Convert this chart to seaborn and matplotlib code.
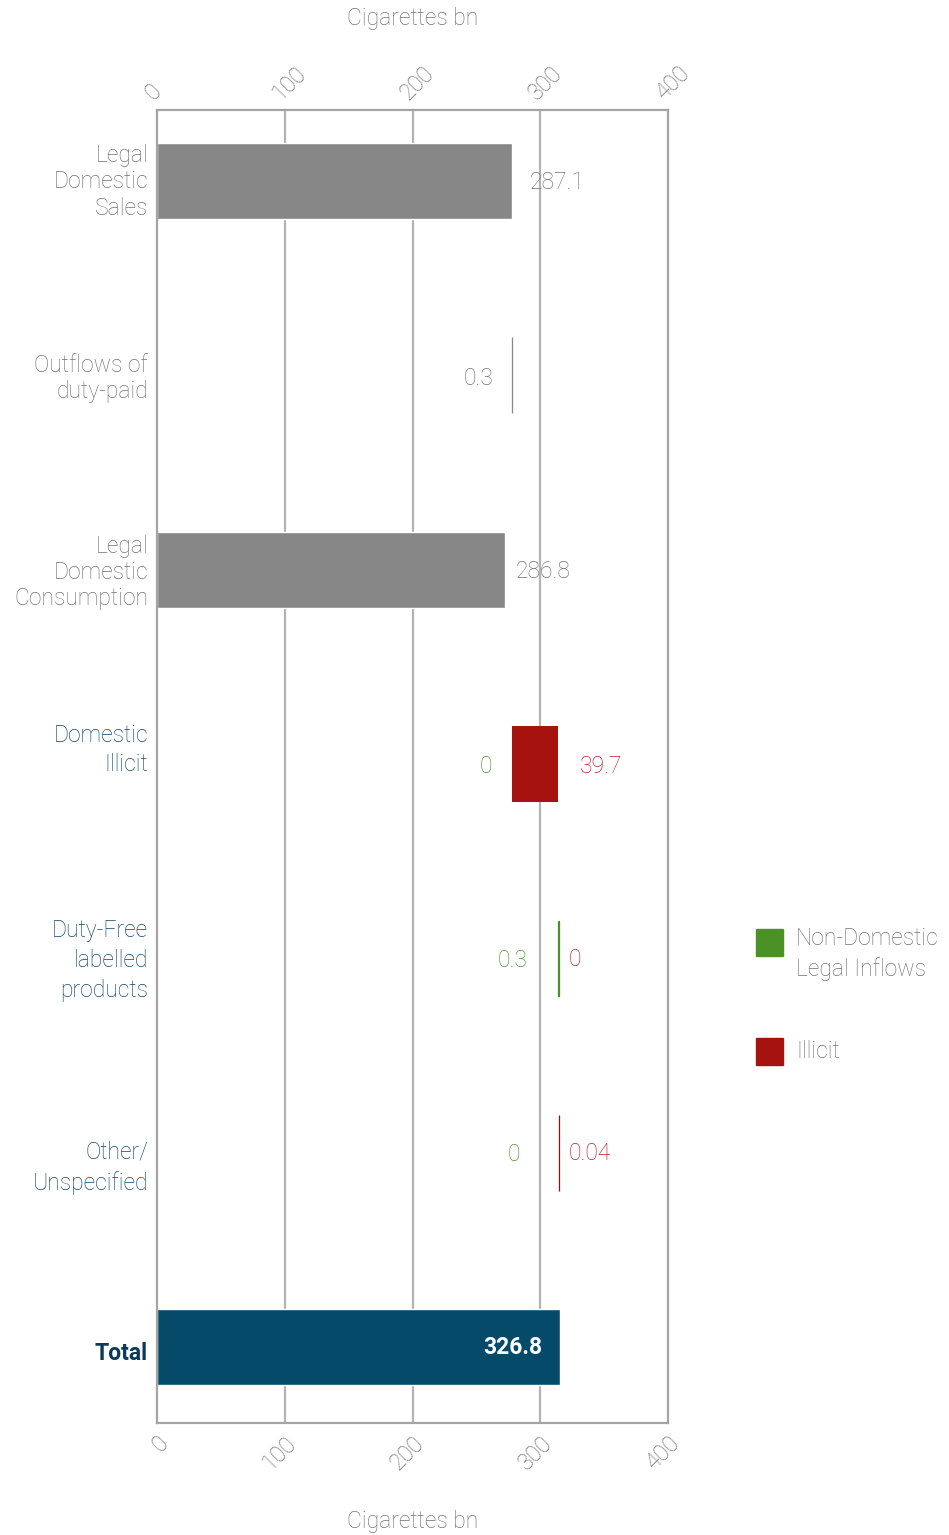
import matplotlib
matplotlib.use("Agg")
import matplotlib.pyplot as plt
import matplotlib.transforms as mtransforms
from matplotlib.patches import Rectangle
import seaborn as sns
import pandas as pd

# ---------------- data ----------------
categories = ["Legal\nDomestic\nSales", "Outflows of\nduty-paid", "Legal\nDomestic\nConsumption",
              "Domestic\nIllicit", "Duty-Free\nlabelled\nproducts", "Other/\nUnspecified", "Total"]
# bars starting at zero (drawn lengths)
zero_cats = ["Legal\nDomestic\nSales", "Legal\nDomestic\nConsumption", "Total"]
zero_vals = [277.9, 272.4, 315.5]
# floating pieces: category, left, width, kind
float_cats = ["Outflows of\nduty-paid", "Domestic\nIllicit", "Duty-Free\nlabelled\nproducts", "Other/\nUnspecified"]
float_left = [277.8, 278.0, 314.0, 314.9]
float_width = [0.3, 36.0, 0.3, 0.04]
float_kind = ["outflow", "illicit", "inflow", "illicit"]
# printed values
sales_label = "287.1"
outflow_label = "0.3"
consumption_label = "286.8"
inflow_labels = ["0", "0.3", "0"]      # Domestic Illicit, Duty-Free, Other
illicit_labels = ["39.7", "0", "0.04"]
total_label = "326.8"
legend_labels = ["Non-Domestic\nLegal Inflows", "Illicit"]
x_ticks = [0, 100, 200, 300, 400]
axis_title = "Cigarettes bn"

# ---------------- style ----------------
sns.set_theme(style="white")
plt.rcParams["font.family"] = ["Roboto", "DejaVu Sans"]
GREY_BAR = "#878787"
RED = "#A51210"
GREEN = "#4A9128"
NAVY = "#064A6A"
TXT_GREY = "#737373"
TXT_BLUE = "#134667"
TXT_GREEN = "#4A9628"
TXT_RED = "#BE1E26"
GRID = "#B3B3B3"
FW = "light"
FS = 16.5

W, H = 949, 1535
fig = plt.figure(figsize=(W / 100, H / 100), dpi=100)
ax = fig.add_axes([157 / W, 112 / H, (668 - 157) / W, (1423 - 110) / H])

pos = {c: i for i, c in enumerate(categories)}
bar_h = 0.39

df = pd.DataFrame({"category": zero_cats, "value": zero_vals})
sns.barplot(data=df, y="category", x="value", order=categories, hue="category",
            hue_order=zero_cats, palette=[GREY_BAR, GREY_BAR, NAVY], orient="h",
            width=bar_h, legend=False, ax=ax, saturation=1, zorder=2)

kind_color = {"outflow": GREY_BAR, "illicit": RED, "inflow": GREEN}
for c, l, w, k in zip(float_cats, float_left, float_width, float_kind):
    col = kind_color[k]
    if k == "illicit" and w < 1:
        col = "#8E0F0D"
    ax.barh(pos[c], w, left=l, height=bar_h, color=col,
            edgecolor=col, linewidth=0.9 if w < 1 else 0, zorder=2)

ax.set_xlim(0, 400)
ax.set_ylim(len(categories) - 1 + 0.39, -0.365)
for xv in x_ticks[1:-1]:
    ax.axvline(xv, color=GRID, lw=1.6, zorder=1)
for s in ax.spines.values():
    s.set_visible(True)
    s.set_color("#A4A4A4")
    s.set_linewidth(1.6)

ax.set_yticks([])
ax.set_ylabel("")
ax.set_xticks(x_ticks)
ax.set_xticklabels([str(t) for t in x_ticks], rotation=45, ha="right",
                   rotation_mode="anchor", color=TXT_GREY, fontsize=FS, fontweight=FW)
ax.tick_params(axis="x", length=0, pad=6)
ax.set_xlabel(axis_title, color=TXT_GREY, fontsize=FS, fontweight=FW, labelpad=26)

top = ax.secondary_xaxis("top")
top.set_xticks(x_ticks)
top.set_xticklabels([str(t) for t in x_ticks], rotation=45, ha="left",
                    rotation_mode="anchor", color=TXT_GREY, fontsize=FS, fontweight=FW)
top.tick_params(axis="x", length=0, pad=4)
top.spines["top"].set_visible(False)
top.set_xlabel(axis_title, color=TXT_GREY, fontsize=FS, fontweight=FW, labelpad=26)

# category labels
cat_colors = [TXT_GREY, TXT_GREY, TXT_GREY, TXT_BLUE, TXT_BLUE, TXT_BLUE, "#0B3A58"]
cat_dy = [-1, -3, -3, 14, -2, -15, -6]
cat_ls = [1.18, 1.18, 1.18, 1.38, 1.38, 1.38, 1.2]
yt = ax.get_yaxis_transform()
for c, col, dy, ls in zip(categories, cat_colors, cat_dy, cat_ls):
    tr = mtransforms.offset_copy(yt, fig=fig, x=-9, y=dy, units="dots")
    bold = c == "Total"
    ax.text(0, pos[c], c, transform=tr, ha="right", va="center", ma="right",
            color=col, fontsize=FS, linespacing=ls,
            fontweight="bold" if bold else FW, clip_on=False)


def vlabel(x, y, s, dx, dy, ha, color, weight=FW):
    tr = mtransforms.offset_copy(ax.transData, fig=fig, x=dx, y=dy, units="dots")
    ax.text(x, y, s, transform=tr, ha=ha, va="center", color=color,
            fontsize=FS, fontweight=weight, zorder=5)


vlabel(zero_vals[0], pos[zero_cats[0]], sales_label, 18, -2, "left", TXT_GREY)
vlabel(float_left[0] + float_width[0], pos[float_cats[0]], outflow_label, -19, -3, "right", TXT_GREY)
vlabel(zero_vals[1], pos[zero_cats[1]], consumption_label, 11, -2, "left", TXT_GREY)
g_dx = [-20, -31, -39]
r_dx = [22, 10, 9]
for i, c in enumerate(float_cats[1:]):
    l = float_left[i + 1]
    w = float_width[i + 1]
    if i == 0:
        vlabel(l, pos[c], inflow_labels[i], g_dx[i], -2, "right", TXT_GREEN)
        vlabel(l + w, pos[c], illicit_labels[i], r_dx[i], -2, "left", TXT_RED)
    else:
        vlabel(l, pos[c], inflow_labels[i], g_dx[i], -2, "right", TXT_GREEN)
        vlabel(l, pos[c], illicit_labels[i], r_dx[i], -1, "left", TXT_RED)
vlabel(zero_vals[2], pos["Total"], total_label, -18, 0, "right", "white", weight="bold")

# legend
for col, ytop in [(GREEN, 929), (RED, 1038)]:
    fig.add_artist(Rectangle((756 / W, 1 - (ytop + 27) / H), 27 / W, 27 / H,
                             transform=fig.transFigure, color=col))
fig.text(796 / W, 1 - 927 / H, legend_labels[0], ha="left", va="top", color=TXT_GREY,
         fontsize=FS, fontweight=FW, linespacing=1.38)
fig.text(796 / W, 1 - 1051 / H, legend_labels[1], ha="left", va="center", color=TXT_GREY,
         fontsize=FS, fontweight=FW)

fig.savefig("out.png", dpi=100, facecolor="white")
